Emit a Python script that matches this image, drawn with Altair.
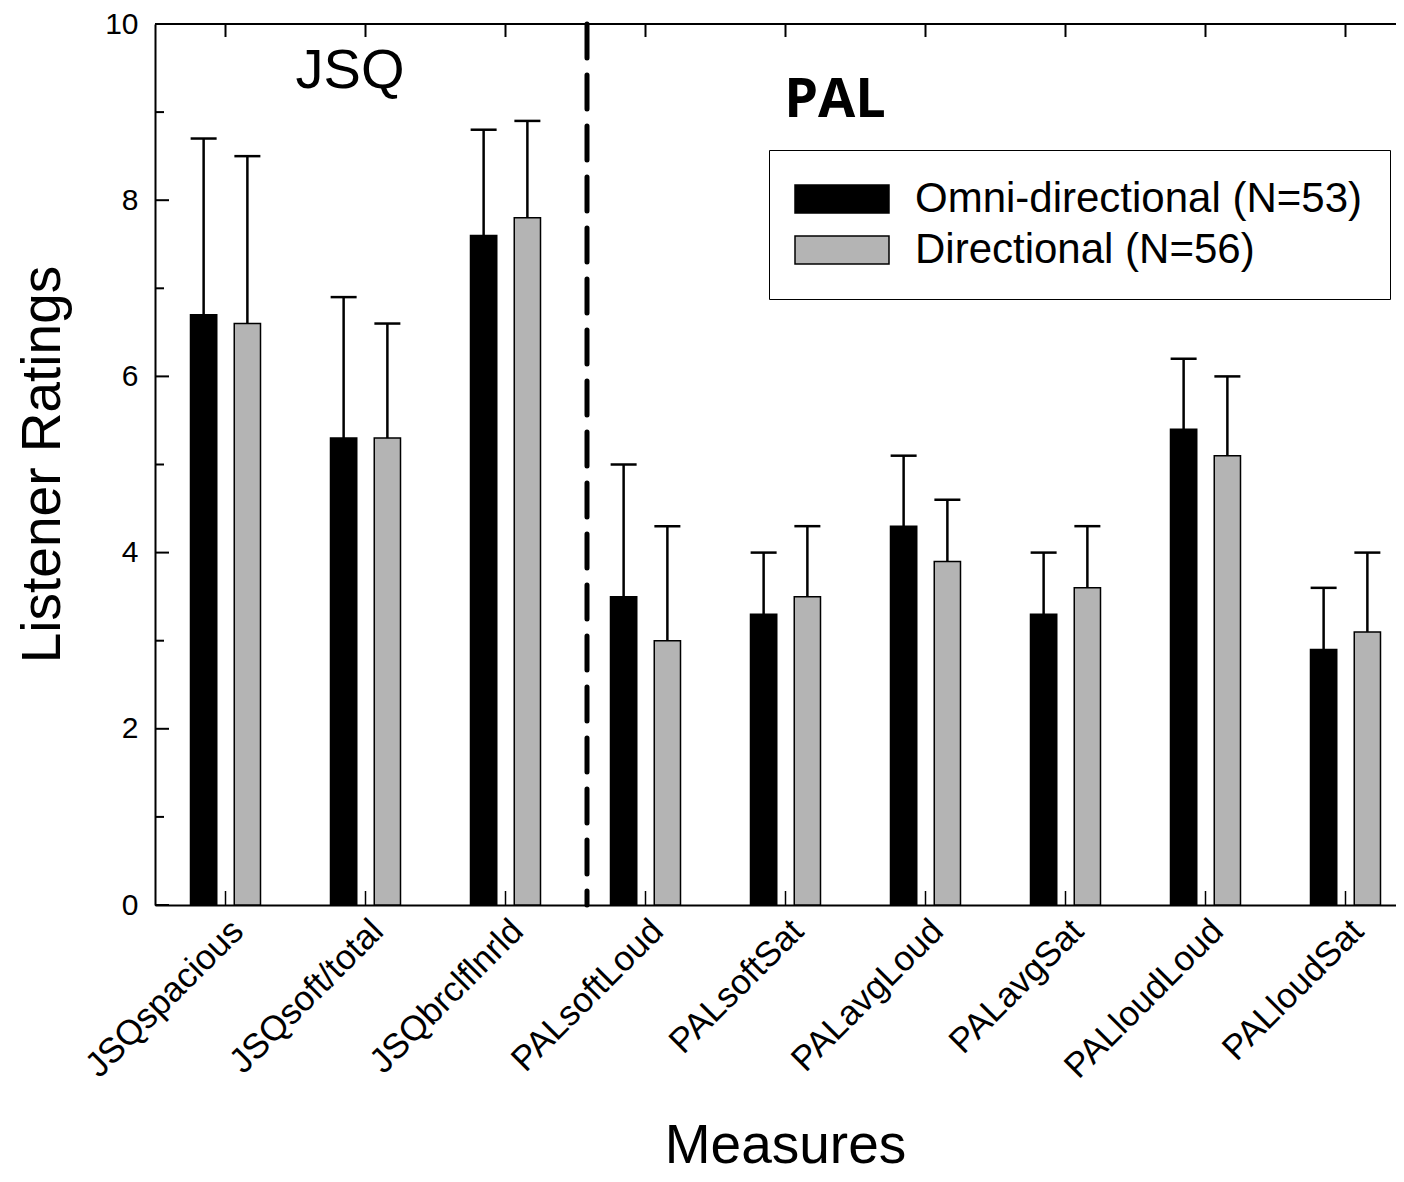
import altair as alt
import pandas as pd

# ---------------- data ----------------
measures = ["JSQspacious", "JSQsoft/total", "JSQbrclflnrld", "PALsoftLoud", "PALsoftSat",
            "PALavgLoud", "PALavgSat", "PALloudLoud", "PALloudSat"]
groups = ["Omni-directional (N=53)", "Directional (N=56)"]
omni_mean = [6.7, 5.3, 7.6, 3.5, 3.3, 4.3, 3.3, 5.4, 2.9]
omni_sd = [2.0, 1.6, 1.2, 1.5, 0.7, 0.8, 0.7, 0.8, 0.7]
dir_mean = [6.6, 5.3, 7.8, 3.0, 3.5, 3.9, 3.6, 5.1, 3.1]
dir_sd = [1.9, 1.3, 1.1, 1.3, 0.8, 0.7, 0.7, 0.9, 0.9]
group_colors = ["#000000", "#b4b4b4"]
y_major = [0, 2, 4, 6, 8, 10]
y_minor = [1, 3, 5, 7, 9]
section_labels = ["JSQ", "PAL"]

rows = []
for g, means, sds in [(groups[0], omni_mean, omni_sd), (groups[1], dir_mean, dir_sd)]:
    for m, mu, sd in zip(measures, means, sds):
        rows.append({"measure": m, "group": g, "mean": mu, "upper": round(mu + sd, 2)})
df = pd.DataFrame(rows)

FONT = "Liberation Sans"
W, H = 1241, 881
XR = 1261

x_main = alt.X(
    "measure:N", sort=measures,
    scale=alt.Scale(domain=measures, range=[0, XR], paddingInner=0.5, paddingOuter=0.2536),
    axis=alt.Axis(
        ticks=False, labelAngle=315, labelAlign="right", labelBaseline="top",
        labelPadding=8, labelFontSize=35, labelFont=FONT, labelColor="black", labelLimit=500,
        domainColor="black", domainWidth=2, grid=False,
        title="Measures", titleFontSize=55, titleFont=FONT, titleFontWeight="normal",
        titleColor="black", titleX=630, titleY=257, titleBaseline="alphabetic", titleAlign="center",
    ),
)
x_plain = alt.X("measure:N", sort=measures)
xo = alt.XOffset("group:N", sort=groups,
                 scale=alt.Scale(domain=groups, paddingInner=0.4, paddingOuter=0))

y_main = alt.Y(
    "mean:Q",
    scale=alt.Scale(domain=[0, 10], nice=False, zero=True),
    axis=alt.Axis(
        values=y_major, format="d", ticks=False, labelPadding=17, labelFontSize=30,
        labelFont=FONT, labelColor="black", labelFlush=False, labelOverlap=False,
        domainColor="black", domainWidth=2, grid=False,
        title="Listener Ratings", titleFontSize=55, titleFont=FONT, titleFontWeight="normal",
        titleColor="black", titleX=-96, titleY=440, titleAngle=270,
        titleBaseline="alphabetic", titleAlign="center",
    ),
)

legend = alt.Legend(
    orient="none", legendX=614, legendY=126, title=None,
    labelFontSize=42, labelFont=FONT, labelColor="black", labelLimit=700,
    symbolType="M-3.357,-1H3.357V1H-3.357Z", symbolSize=784,
    symbolStrokeColor="black", symbolStrokeWidth=1.5, symbolOpacity=1,
    symbolOffset=24, labelOffset=52, padding=28, rowPadding=9,
    strokeColor="black", fillColor="white",
)

bars = alt.Chart(df).mark_bar(stroke="black", strokeWidth=1.5, opacity=1).encode(
    x=x_main, xOffset=xo, y=y_main,
    color=alt.Color("group:N", sort=groups,
                    scale=alt.Scale(domain=groups, range=group_colors), legend=legend),
)

err = alt.Chart(df).mark_rule(color="black", strokeWidth=2.5).encode(
    x=x_plain, xOffset=alt.XOffset("group:N", sort=groups),
    y=alt.Y("mean:Q"), y2="upper:Q",
)

caps = alt.Chart(df).mark_tick(color="black", size=26, thickness=2.5, opacity=1).encode(
    x=x_plain, xOffset=alt.XOffset("group:N", sort=groups),
    y=alt.Y("upper:Q"),
)

major_df = pd.DataFrame({"v": y_major})
minor_df = pd.DataFrame({"v": y_minor})
left_major = alt.Chart(major_df).mark_rule(color="black", strokeWidth=2).encode(
    x=alt.value(0), x2=alt.value(14), y=alt.Y("v:Q"))
left_minor = alt.Chart(minor_df).mark_rule(color="black", strokeWidth=2).encode(
    x=alt.value(0), x2=alt.value(9), y=alt.Y("v:Q"))

cat_df = pd.DataFrame({"measure": measures})
top_ticks = alt.Chart(cat_df).mark_rule(color="black", strokeWidth=2).encode(
    x=x_plain, y=alt.value(0), y2=alt.value(13))
bottom_ticks = alt.Chart(cat_df).mark_rule(color="black", strokeWidth=1.5).encode(
    x=x_plain, y=alt.value(H - 14), y2=alt.value(H))

top_line = alt.Chart(cat_df).mark_rule(color="black", strokeWidth=2).encode(
    x=alt.value(0), x2=alt.value(XR), y=alt.value(0))

separator = alt.Chart(cat_df.head(1)).mark_rule(
    color="black", strokeWidth=5, strokeDash=[34, 17], strokeCap="round").encode(
    x=alt.value(432), y=alt.value(0), y2=alt.value(H))

jsq = alt.Chart(pd.DataFrame({"t": [section_labels[0]]})).mark_text(
    fontSize=56, font=FONT, align="center", baseline="alphabetic", color="black").encode(
    text="t:N", x=alt.value(195), y=alt.value(64))
pal = alt.Chart(pd.DataFrame({"t": [section_labels[1]]})).mark_text(
    fontSize=54, font="Open Sans", fontWeight="bold", align="center",
    baseline="alphabetic", color="black").encode(
    text="t:N", x=alt.value(680), y=alt.value(93))

chart = alt.layer(
    bars, err, caps, left_major, left_minor, top_ticks, bottom_ticks, top_line,
    separator, jsq, pal,
).properties(
    width=W, height=H,
    autosize=alt.AutoSizeParams(type="none"),
    padding={"left": 147, "top": 16, "right": 0, "bottom": 269},
).configure_view(stroke=None).configure(font=FONT)

chart.save("out.html", embed_options={"renderer": "svg", "actions": False})
